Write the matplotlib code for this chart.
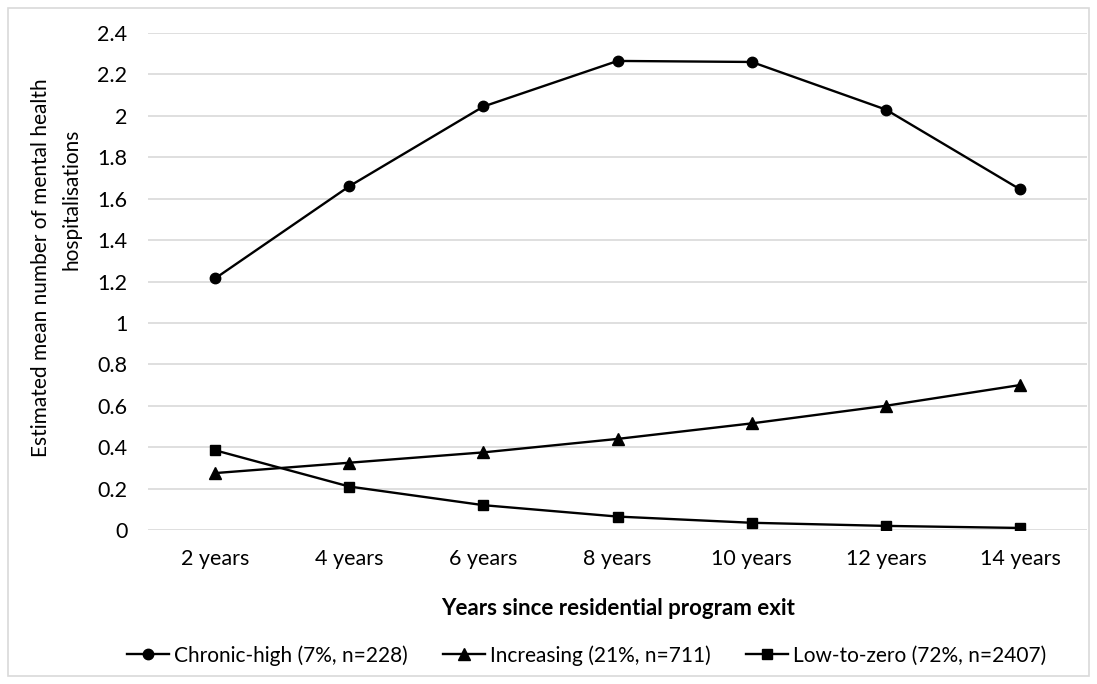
import numpy as np
import matplotlib.pyplot as plt
from matplotlib.patches import Rectangle

plt.rcParams['font.family'] = ['Lato', 'DejaVu Sans']

years = ['2 years', '4 years', '6 years', '8 years', '10 years', '12 years', '14 years']
chronic_high = [1.215, 1.66, 2.045, 2.265, 2.26, 2.03, 1.645]
increasing = [0.275, 0.325, 0.375, 0.44, 0.515, 0.60, 0.70]
low_to_zero = [0.385, 0.21, 0.12, 0.065, 0.035, 0.02, 0.01]
yticks = [0, 0.2, 0.4, 0.6, 0.8, 1, 1.2, 1.4, 1.6, 1.8, 2, 2.2, 2.4]
ytick_labels = ['0', '0.2', '0.4', '0.6', '0.8', '1', '1.2', '1.4', '1.6', '1.8', '2', '2.2', '2.4']

fig = plt.figure(figsize=(10.97, 6.84), dpi=100)
ax = fig.add_axes([0.135, 0.2251, 0.856, 0.7267])

x = np.arange(len(years))
ax.plot(x, chronic_high, color='black', lw=1.7, marker='o', ms=7.5,
        label='Chronic-high (7%, n=228)')
ax.plot(x, increasing, color='black', lw=1.7, marker='^', ms=9,
        label='Increasing (21%, n=711)')
ax.plot(x, low_to_zero, color='black', lw=1.7, marker='s', ms=7.5,
        label='Low-to-zero (72%, n=2407)')

ax.set_xlim(-0.5, len(years) - 0.5)
ax.set_ylim(0, 2.4)
ax.set_yticks(yticks)
ax.set_yticklabels(ytick_labels)
ax.set_xticks(x)
ax.set_xticklabels(years)
ax.tick_params(length=0, labelsize=15.5, colors='#000000')
ax.tick_params(axis='y', pad=15)
ax.tick_params(axis='x', pad=14)
ax.grid(axis='y', color='#d9d9d9', lw=1.2)
ax.set_axisbelow(True)
for s in ax.spines.values():
    s.set_visible(False)

ax.set_xlabel('Years since residential program exit', fontsize=16,
              fontweight='bold', va='top')
ax.xaxis.set_label_coords(0.5, -0.137)

# y label: two lines placed like the original
ax.text(-0.114, 0.527, 'Estimated mean number of mental health', rotation=90,
        transform=ax.transAxes, ha='center', va='center', fontsize=15)
ax.text(-0.082, 0.666, 'hospitalisations', rotation=90,
        transform=ax.transAxes, ha='center', va='center', fontsize=15)

fig.legend(loc='center', bbox_to_anchor=(0.535, 0.042), ncol=3, frameon=False,
           fontsize=15, handlelength=2.0, columnspacing=1.7, handletextpad=0.25)

fig.patches.append(Rectangle((8 / 1097, 8 / 684), 1 - 16 / 1097, 1 - 16 / 684,
                             transform=fig.transFigure, fill=False,
                             edgecolor='#d9d9d9', lw=1.2))

fig.savefig('out.png', dpi=100)
